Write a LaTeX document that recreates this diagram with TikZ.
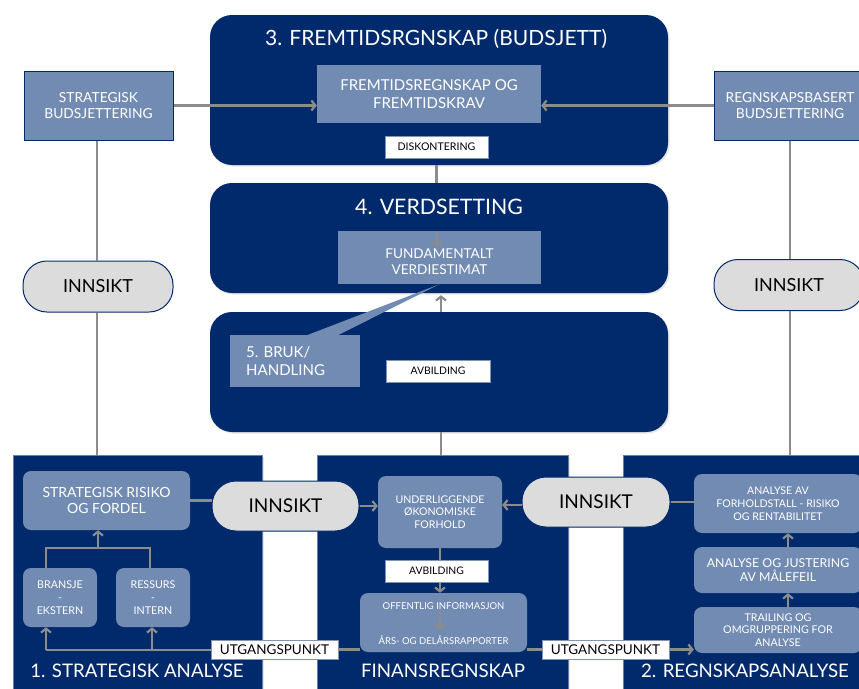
\documentclass[tikz,border=0pt]{standalone}
\usepackage{fontspec}
\setmainfont{Lato}
\usetikzlibrary{arrows.meta,calc,shadows}
\definecolor{navy}{RGB}{0,42,108}
\definecolor{steel}{RGB}{114,139,178}
\definecolor{pillgray}{RGB}{220,220,220}
\definecolor{arrgray}{RGB}{140,140,140}
\newcommand{\fs}[1]{\fontsize{#1}{\fpeval{1.2*#1}pt}\selectfont}
\begin{document}
\begin{tikzpicture}[x=1pt,y=-1pt,
  shade/.style={drop shadow={opacity=0.2, shadow xshift=1.5pt, shadow yshift=-1.5pt}},
  navybox/.style={fill=navy, draw=none, rounded corners=22pt, inner sep=0pt, shade},
  panel/.style={fill=navy, draw=navy!60!white, line width=0.6pt, inner sep=0pt, shade},
  steelbox/.style={fill=steel, draw=none, text=white, align=center, inner sep=0pt},
  steelround/.style={steelbox, rounded corners=8pt},
  sidebox/.style={fill=steel, draw=navy, line width=1pt, text=white, align=center, inner sep=0pt, font=\fs{13.8}},
  whitelabel/.style={fill=white, draw=navy!50!white, line width=0.6pt, inner sep=0pt, text=black, font=\fs{10.6}},
  pill/.style={fill=pillgray, draw=navy, line width=1pt, rounded corners=24pt, inner sep=0pt, text=black},
  conn/.style={draw=arrgray, line width=2.2pt},
  arr/.style={conn, -{Straight Barb[length=4pt, width=10pt]}},
  title/.style={text=white, inner sep=0pt}
]
\clip (0,0) rectangle (859,688);
\fill[white] (0,0) rectangle (859,688);

% top navy boxes
\node[navybox, minimum width=458, minimum height=150] (b3) at (439,90) {};
\node[navybox, minimum width=458, minimum height=110] (b4) at (439,238) {};
\node[navybox, minimum width=458, minimum height=120] (b5) at (439,372) {};

\node[title, font=\fs{21}] (t3) at (436,39) {3. FREMTIDSRGNSKAP (BUDSJETT)};
\node[title, font=\fs{21.3}] (t4) at (439,207) {4. VERDSETTING};

\node[steelbox, minimum width=224, minimum height=58, font=\fs{15}] (fr) at (429,94) {FREMTIDSREGNSKAP OG\\FREMTIDSKRAV};
\node[whitelabel, minimum width=103, minimum height=22] (disk) at (436.5,147) {DISKONTERING};
\node[steelbox, minimum width=203, minimum height=53] (fv) at (439.5,257.5) {};
\node[text=white, align=center, inner sep=0pt, font=\fs{13.6}] (fvt) at (439.5,262) {FUNDAMENTALT\\VERDIESTIMAT};
\node[whitelabel, minimum width=104, minimum height=22, font=\fs{10.4}] (avb1) at (438,371) {AVBILDING};

% side boxes
\node[sidebox, minimum width=149, minimum height=69] (sb) at (98.5,105.5) {STRATEGISK\\BUDSJETTERING};
\node[sidebox, minimum width=152, minimum height=69] (rb) at (790,105.5) {REGNSKAPSBASERT\\BUDSJETTERING};
\node[pill, minimum width=150, minimum height=51, font=\fs{18}] (innL) at (98,286.5) {INNSIKT};
\node[pill, minimum width=150, minimum height=51, font=\fs{18}] (innR) at (789,285) {INNSIKT};

% bottom panels
\node[panel, minimum width=249, minimum height=243] (pL) at (137.5,576.5) {};
\node[panel, minimum width=251, minimum height=243] (pM) at (442.5,576.5) {};
\node[panel, minimum width=247, minimum height=243] (pR) at (746.5,576.5) {};

\node[steelround, minimum width=167, minimum height=59, font=\fs{14}] (srf) at (106.5,500.5) {STRATEGISK RISIKO\\OG FORDEL};
\node[steelround, minimum width=74, minimum height=59, font=\fs{10.7}, align=center] (bran) at (60,597.5) {BRANSJE\\-\\EKSTERN};
\node[steelround, minimum width=74, minimum height=59, font=\fs{10.7}] (ress) at (153,597.5) {RESSURS\\-\\INTERN};

\node[steelround, minimum width=124, minimum height=72, font=\fs{10.6}] (und) at (440,512) {UNDERLIGGENDE\\ØKONOMISKE\\FORHOLD};
\node[whitelabel, minimum width=103, minimum height=22, font=\fs{10.4}] (avb2) at (436.5,571) {AVBILDING};
\node[steelround, minimum width=167, minimum height=59] (off) at (443.5,622.5) {};
\node[text=white, inner sep=0pt, font=\fs{9.5}] (off1) at (443.5,606) {OFFENTLIG INFORMASJON};
\node[text=white, inner sep=0pt, font=\fs{9.5}] (off2) at (443.5,640) {ÅRS- OG DELÅRSRAPPORTER};

\node[steelround, minimum width=168, minimum height=59, font=\fs{10.6}] (afr) at (778,503.5) {ANALYSE AV\\FORHOLDSTALL - RISIKO\\OG RENTABILITET};
\node[steelround, minimum width=168, minimum height=46, font=\fs{12.3}] (ajm) at (778,570) {ANALYSE OG JUSTERING\\AV MÅLEFEIL};
\node[steelround, minimum width=168, minimum height=46, font=\fs{10.7}] (trail) at (778,630) {TRAILING OG\\OMGRUPPERING FOR\\ANALYSE};

\node[pill, minimum width=147, minimum height=50, font=\fs{19}] (innM1) at (285.5,506) {INNSIKT};
\node[pill, minimum width=148, minimum height=50, font=\fs{19}] (innM2) at (596,502) {INNSIKT};

\node[whitelabel, minimum width=127, minimum height=19, font=\fs{13.5}] (utg1) at (274.5,649.5) {UTGANGSPUNKT};
\node[whitelabel, minimum width=127, minimum height=19, font=\fs{13.5}] (utg2) at (605.5,649.5) {UTGANGSPUNKT};

\node[title, font=\fs{18.7}] (tL) at (137,671) {1. STRATEGISK ANALYSE};
\node[title, font=\fs{18.7}] (tM) at (443,671) {FINANSREGNSKAP};
\node[title, font=\fs{18.7}] (tR) at (745,671) {2. REGNSKAPSANALYSE};

% coordinates
\coordinate (cx) at (441,0);
\coordinate (rx) at (790,0);
\coordinate (lx) at (97,0);
\coordinate (ax) at (788,0);
\coordinate (jl) at (46,548);
\coordinate (jr) at (150,548);
\coordinate (jm) at (98,548);
\coordinate (bl) at (46,650);
\coordinate (br) at (152,650);
\coordinate (oa) at (440,611);
\coordinate (ob) at (440,630);
\coordinate (fa) at (437,232);
\coordinate (fb) at (437,247);

% connectors
\draw[arr] (sb.east) -- (sb.east -| fr.west);
\draw[arr] (rb.west) -- (rb.west -| fr.east);
\draw[conn] (disk |- b3.south) -- (disk |- b4.north);
\draw[arr] (fa) -- (fb);
\draw[arr] (cx |- b5.north) -- ($(cx |- b4.south)+(0,2)$);
\draw[conn] (cx |- b5.south) -- (cx |- pM.north);
\draw[conn] (lx |- sb.south) -- (lx |- innL.north);
\draw[conn] (lx |- innL.south) -- (lx |- pL.north);
\draw[conn] (rx |- rb.south) -- (rx |- innR.north);
\draw[conn] (rx |- innR.south) -- (rx |- pR.north);

\draw[conn] (srf.east) -- (srf.east -| innM1.west);
\draw[arr] (innM1.east) -- (innM1.east -| und.west);
\draw[arr] ($(innM2.west)+(0,3)$) -- ($(innM2.west -| und.east)+(0,3)$);
\draw[conn] (innM2.east) -- (innM2.east -| afr.west);

\draw[conn] (jl |- bran.north) -- (jl) -- (jr) -- (jr |- ress.north);
\draw[arr] (jm) -- (jm |- srf.south);
\draw[arr] (bl) -- (bl |- bran.south);
\draw[arr] (br) -- (br |- ress.south);
\draw[conn] (bl) -- (bl -| utg1.west);
\draw[conn] (utg1.east) -- (utg1.east -| off.west);
\draw[conn] (off.east |- utg2.west) -- (utg2.west);
\draw[arr] (utg2.east) -- (utg2.east -| trail.west);

\draw[conn] (und.south) -- (und.south |- avb2.north);
\draw[arr] (und.south |- avb2.south) -- (und.south |- off.north);
\draw[arr] (oa) -- (ob);

\draw[arr] (ax |- trail.north) -- (ax |- ajm.south);
\draw[arr] (ax |- ajm.north) -- (ax |- afr.south);

% callout
\node[steelbox, minimum width=130, minimum height=52] (bruk) at (295,361) {};
\fill[steel] ($(bruk.north west)+(77,0.5)$) -- ($(bruk.north west)+(108,0.5)$) -- (fv.south) -- cycle;
\node[text=white, inner sep=0pt, align=left, anchor=west, font=\fs{15}] (brukt) at (246,361) {5. BRUK/\\HANDLING};
\end{tikzpicture}
\end{document}
